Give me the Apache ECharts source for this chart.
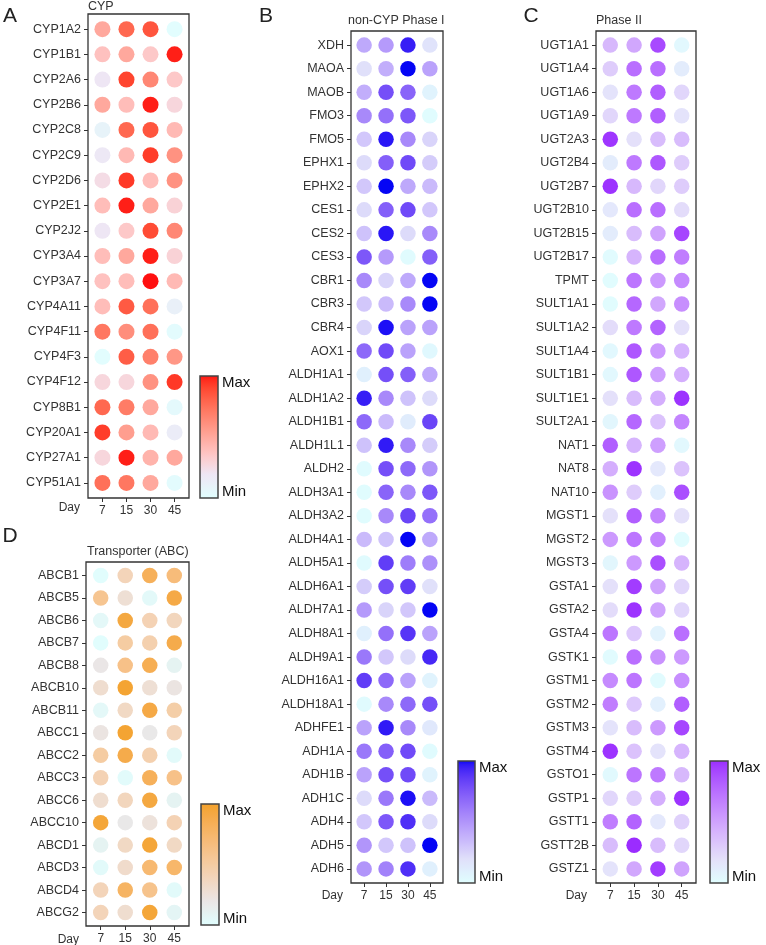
<!DOCTYPE html>
<html><head><meta charset="utf-8">
<script src="https://cdn.jsdelivr.net/npm/echarts@6/dist/echarts.min.js"></script>
<style>html,body{margin:0;padding:0;background:#fff}#c{width:766px;height:945px}</style>
</head><body><div id="c"></div>
<script>
const days = ['7', '15', '30', '45'];

const cypGenes = ['CYP1A2','CYP1B1','CYP2A6','CYP2B6','CYP2C8','CYP2C9','CYP2D6','CYP2E1','CYP2J2','CYP3A4','CYP3A7','CYP4A11','CYP4F11','CYP4F3','CYP4F12','CYP8B1','CYP20A1','CYP27A1','CYP51A1'];
const cypValues = [
  [0.50,0.78,0.85,0.02],[0.38,0.50,0.35,0.98],[0.20,0.90,0.65,0.35],[0.50,0.40,0.98,0.28],
  [0.10,0.78,0.85,0.42],[0.18,0.42,0.92,0.60],[0.25,0.93,0.40,0.60],[0.40,0.98,0.50,0.30],
  [0.20,0.35,0.88,0.65],[0.40,0.50,0.98,0.30],[0.38,0.40,1.00,0.42],[0.40,0.83,0.75,0.12],
  [0.72,0.62,0.75,0.03],[0.02,0.82,0.68,0.58],[0.28,0.28,0.60,0.93],[0.78,0.70,0.50,0.05],
  [0.92,0.55,0.42,0.15],[0.28,0.98,0.45,0.50],[0.75,0.72,0.50,0.03]
];

const phase1Genes = ['XDH','MAOA','MAOB','FMO3','FMO5','EPHX1','EPHX2','CES1','CES2','CES3','CBR1','CBR3','CBR4','AOX1','ALDH1A1','ALDH1A2','ALDH1B1','ALDH1L1','ALDH2','ALDH3A1','ALDH3A2','ALDH4A1','ALDH5A1','ALDH6A1','ALDH7A1','ALDH8A1','ALDH9A1','ALDH16A1','ALDH18A1','ADHFE1','ADH1A','ADH1B','ADH1C','ADH4','ADH5','ADH6'];
const phase1Values = [
  [0.42,0.48,0.95,0.18],[0.20,0.40,1.00,0.45],[0.40,0.78,0.70,0.08],[0.55,0.65,0.75,0.02],
  [0.30,0.97,0.55,0.25],[0.22,0.72,0.80,0.28],[0.30,1.00,0.42,0.35],[0.22,0.72,0.80,0.30],
  [0.32,0.97,0.22,0.55],[0.75,0.48,0.03,0.72],[0.55,0.25,0.42,1.00],[0.30,0.35,0.55,1.00],
  [0.25,0.98,0.45,0.45],[0.68,0.80,0.45,0.05],[0.10,0.78,0.72,0.42],[0.95,0.55,0.32,0.22],
  [0.68,0.35,0.12,0.82],[0.32,0.96,0.55,0.28],[0.03,0.78,0.68,0.50],[0.02,0.70,0.55,0.75],
  [0.02,0.55,0.82,0.65],[0.35,0.32,1.00,0.42],[0.03,0.85,0.60,0.52],[0.28,0.78,0.85,0.20],
  [0.48,0.25,0.30,1.00],[0.10,0.65,0.88,0.45],[0.62,0.30,0.22,0.92],[0.85,0.68,0.45,0.08],
  [0.03,0.55,0.68,0.78],[0.45,0.96,0.55,0.15],[0.62,0.72,0.80,0.03],[0.45,0.78,0.80,0.08],
  [0.22,0.62,0.98,0.35],[0.30,0.75,0.90,0.22],[0.50,0.30,0.32,1.00],[0.50,0.58,0.90,0.10]
];

const phase2Genes = ['UGT1A1','UGT1A4','UGT1A6','UGT1A9','UGT2A3','UGT2B4','UGT2B7','UGT2B10','UGT2B15','UGT2B17','TPMT','SULT1A1','SULT1A2','SULT1A4','SULT1B1','SULT1E1','SULT2A1','NAT1','NAT8','NAT10','MGST1','MGST2','MGST3','GSTA1','GSTA2','GSTA4','GSTK1','GSTM1','GSTM2','GSTM3','GSTM4','GSTO1','GSTP1','GSTT1','GSTT2B','GSTZ1'];
const phase2Values = [
  [0.40,0.48,0.90,0.05],[0.30,0.75,0.75,0.12],[0.18,0.70,0.82,0.25],[0.25,0.70,0.82,0.18],
  [0.97,0.20,0.38,0.38],[0.12,0.70,0.85,0.30],[0.98,0.40,0.25,0.30],[0.15,0.75,0.75,0.22],
  [0.12,0.38,0.50,0.92],[0.03,0.42,0.75,0.68],[0.02,0.72,0.55,0.62],[0.02,0.78,0.48,0.60],
  [0.22,0.70,0.80,0.20],[0.05,0.85,0.55,0.42],[0.05,0.85,0.52,0.45],[0.20,0.38,0.45,0.98],
  [0.06,0.78,0.35,0.65],[0.82,0.42,0.52,0.05],[0.45,0.98,0.15,0.35],[0.58,0.30,0.10,0.88],
  [0.20,0.82,0.65,0.20],[0.55,0.72,0.65,0.02],[0.06,0.55,0.88,0.42],[0.20,0.95,0.50,0.25],
  [0.22,0.98,0.50,0.25],[0.72,0.32,0.08,0.75],[0.03,0.75,0.58,0.55],[0.62,0.72,0.03,0.60],
  [0.68,0.32,0.10,0.82],[0.18,0.38,0.55,0.92],[0.98,0.35,0.18,0.42],[0.04,0.72,0.70,0.40],
  [0.25,0.30,0.45,0.98],[0.68,0.80,0.15,0.28],[0.38,1.00,0.38,0.25],[0.18,0.48,0.95,0.50]
];

const abcGenes = ['ABCB1','ABCB5','ABCB6','ABCB7','ABCB8','ABCB10','ABCB11','ABCC1','ABCC2','ABCC3','ABCC6','ABCC10','ABCD1','ABCD3','ABCD4','ABCG2'];
const abcValues = [
  [0.02,0.40,0.82,0.68],[0.58,0.28,0.05,0.90],[0.06,0.92,0.42,0.38],[0.02,0.50,0.45,0.88],
  [0.20,0.62,0.85,0.10],[0.30,0.97,0.28,0.22],[0.06,0.35,0.90,0.48],[0.22,0.97,0.18,0.40],
  [0.50,0.88,0.45,0.04],[0.42,0.03,0.82,0.62],[0.30,0.38,0.92,0.10],[0.95,0.18,0.25,0.42],
  [0.10,0.35,0.95,0.35],[0.04,0.32,0.72,0.75],[0.40,0.78,0.60,0.04],[0.40,0.30,0.95,0.08]
];

const panelTitles = ['CYP', 'non-CYP Phase I', 'Phase II', 'Transporter (ABC)'];
const panelLetters = ['A', 'B', 'C', 'D'];
const scaleTexts = ['Max', 'Min'];
const dayLabel = 'Day';

// ---------- colour helpers (Lab interpolation) ----------
function hex2rgb(h){h=h.replace('#','');return [0,2,4].map(i=>parseInt(h.substr(i,2),16)/255);}
function lin(c){return c<=0.04045?c/12.92:Math.pow((c+0.055)/1.055,2.4);}
function delin(c){return c<=0.0031308?12.92*c:1.055*Math.pow(c,1/2.4)-0.055;}
function rgb2lab(rgb){
  const [r,g,b]=rgb.map(lin);
  let X=(0.4124*r+0.3576*g+0.1805*b)/0.95047, Y=(0.2126*r+0.7152*g+0.0722*b), Z=(0.0193*r+0.1192*g+0.9505*b)/1.08883;
  const f=t=>t>0.008856?Math.cbrt(t):7.787*t+16/116;
  const fx=f(X),fy=f(Y),fz=f(Z);
  return [116*fy-16,500*(fx-fy),200*(fy-fz)];
}
function lab2hex(lab){
  const [L,a,b]=lab; const fy=(L+16)/116, fx=fy+a/500, fz=fy-b/200;
  const fi=t=>{const t3=t*t*t;return t3>0.008856?t3:(t-16/116)/7.787;};
  const X=fi(fx)*0.95047, Y=fi(fy), Z=fi(fz)*1.08883;
  const r=3.2406*X-1.5372*Y-0.4986*Z, g=-0.9689*X+1.8758*Y+0.0415*Z, bb=0.0557*X-0.2040*Y+1.0570*Z;
  return '#'+[r,g,bb].map(c=>{let v=Math.round(Math.max(0,Math.min(1,delin(c)))*255);return v.toString(16).padStart(2,'0');}).join('');
}
function ramp(cols,pos,n){
  const labs=cols.map(c=>rgb2lab(hex2rgb(c))); const out=[];
  for(let i=0;i<n;i++){
    const t=i/(n-1); let k=0; while(k<pos.length-2 && t>pos[k+1]) k++;
    const u=(t-pos[k])/(pos[k+1]-pos[k]);
    out.push(lab2hex(labs[k].map((v,j)=>v+(labs[k+1][j]-v)*u)));
  }
  return out;
}

const font = 'Liberation Sans, Arial, Helvetica, sans-serif';
const txt = '#333';
const layouts = [
  {genes: cypGenes, vals: cypValues, grid:{left:88, top:14, width:101, height:484}, size:16,
   cols:['#E0FFFF','#EEE6F4','#FF1010'], bar:{x:200,y:376,w:18,h:122}, title:{x:88,y:6.5}, letter:{x:10,y:16}, day:{x:80,y:508}},
  {genes: phase1Genes, vals: phase1Values, grid:{left:351, top:31, width:92, height:852}, size:15.5,
   cols:['#E0FFFF','#E0E0FA','#0505F5'], bar:{x:458,y:761,w:17,h:122}, title:{x:348,y:21}, letter:{x:266,y:16}, day:{x:343,y:896}},
  {genes: phase2Genes, vals: phase2Values, grid:{left:596, top:31, width:100, height:852}, size:15.5,
   cols:['#E0FFFF','#E4E0FA','#9B2CFF'], bar:{x:710,y:761,w:18,h:122}, title:{x:596,y:21}, letter:{x:531,y:16}, day:{x:587,y:896}},
  {genes: abcGenes, vals: abcValues, grid:{left:86, top:562, width:103, height:364}, size:15.5,
   cols:['#E0FFFF','#EAE6E6','#F3A12A'], bar:{x:201,y:804,w:18,h:121}, title:{x:87,y:551.5}, letter:{x:10,y:536}, day:{x:79,y:940}}
];

const grid=[], xAxis=[], yAxis=[], series=[], visualMap=[], graphic=[];
layouts.forEach((p,i)=>{
  const n=p.genes.length;
  const colors=ramp(p.cols,[0,0.2,1],31);
  grid.push(Object.assign({show:true, borderColor:'#333', borderWidth:1.3, backgroundColor:'#fff'}, p.grid));
  xAxis.push({type:'value', gridIndex:i, min:0.4, max:days.length+0.6,
    splitLine:{show:false}, axisLine:{show:false},
    axisTick:{show:true, length:4, customValues:days.map((d,k)=>k+1), lineStyle:{color:'#333'}},
    axisLabel:{customValues:days.map((d,k)=>k+1), margin:7, color:txt, fontSize:12, fontFamily:font,
      formatter:v=>days[Math.round(v)-1]}});
  yAxis.push({type:'value', gridIndex:i, inverse:true, min:0.4, max:n+0.6,
    splitLine:{show:false}, axisLine:{show:false},
    axisTick:{show:true, length:4, customValues:p.genes.map((g,k)=>k+1), lineStyle:{color:'#333'}},
    axisLabel:{customValues:p.genes.map((g,k)=>k+1), margin:7, color:txt, fontSize:12.5, fontFamily:font,
      formatter:v=>p.genes[Math.round(v)-1]}});
  const data=[];
  p.vals.forEach((row,r)=>row.forEach((v,c)=>data.push([c+1,r+1,v])));
  series.push({type:'scatter', xAxisIndex:i, yAxisIndex:i, data, symbolSize:p.size, itemStyle:{opacity:1}});
  visualMap.push({type:'continuous', show:false, seriesIndex:i, dimension:2, min:0, max:1, inRange:{color:colors}});
  // colour bar
  graphic.push({type:'rect', shape:{x:p.bar.x, y:p.bar.y, width:p.bar.w, height:p.bar.h},
    style:{fill:new echarts.graphic.LinearGradient(0,1,0,0, colors.map((c,k)=>({offset:k/(colors.length-1), color:c}))),
      stroke:'#444', lineWidth:1.5}});
  graphic.push({type:'text', x:p.bar.x+p.bar.w+4, y:p.bar.y+7, style:{text:scaleTexts[0], fill:'#111', font:'15px '+font, verticalAlign:'middle'}});
  graphic.push({type:'text', x:p.bar.x+p.bar.w+4, y:p.bar.y+p.bar.h-6, style:{text:scaleTexts[1], fill:'#111', font:'15px '+font, verticalAlign:'middle'}});
  graphic.push({type:'text', x:p.title.x, y:p.title.y, style:{text:panelTitles[i], fill:txt, font:'12.5px '+font, verticalAlign:'middle'}});
  graphic.push({type:'text', x:p.letter.x, y:p.letter.y, style:{text:panelLetters[i], fill:'#222', font:'21px '+font, align:'center', verticalAlign:'middle'}});
  graphic.push({type:'text', x:p.day.x, y:p.day.y, style:{text:dayLabel, fill:txt, font:'12px '+font, align:'right', verticalAlign:'middle'}});
});

const chart=echarts.init(document.getElementById('c'),null,{renderer:'canvas'});
chart.setOption({animation:false, backgroundColor:'#fff', grid, xAxis, yAxis, series, visualMap, graphic});
</script></body></html>
